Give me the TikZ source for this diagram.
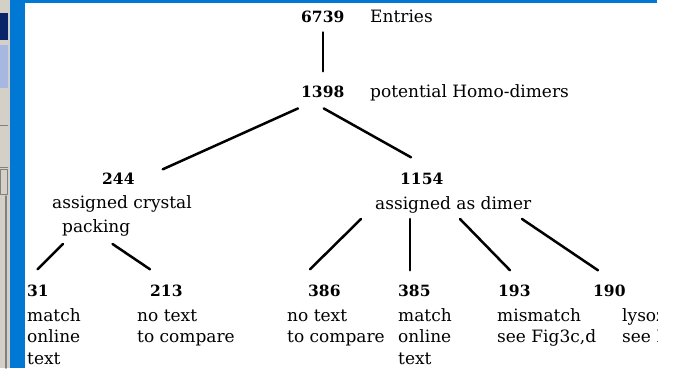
\documentclass[tikz,border=0pt]{standalone}
\usepackage{fontspec}
\setmainfont{DejaVu Serif}
\usetikzlibrary{positioning}
\definecolor{winblue}{RGB}{0,120,212}
\definecolor{wingray}{RGB}{212,208,200}
\definecolor{winnavy}{RGB}{10,36,106}
\definecolor{winlav}{RGB}{166,184,226}
\definecolor{winline}{RGB}{128,128,128}

\begin{document}
\begin{tikzpicture}[x=1pt,y=-1pt,line cap=round,line join=round,
  num/.style={font=\fontsize{15.5}{20}\selectfont\bfseries,inner sep=0pt,anchor=base west},
  lbl/.style={font=\fontsize{17}{21.5}\selectfont,inner sep=0pt,anchor=base west,align=left},
  link/.style={line width=2.5pt}]
\useasboundingbox (0,0) rectangle (675,368);
\fill[white] (0,0) rectangle (675,368);
% window frame
\fill[wingray] (0,0) rectangle (10,368);
\fill[winnavy] (0,13) rectangle (8,40);
\fill[winlav] (0,45) rectangle (8,88);
\draw[winline] (0,125) -- (8,125);
\draw[winline] (0,167) -- (8,167);
\draw[winline] (0.5,169) rectangle (7.5,194);
\draw[winline,line width=1.5pt] (6,196) -- (6,368);
\fill[winblue] (10,0) rectangle (25,368);
\fill[winblue] (25,0) rectangle (657,3);
% top of the tree
\node[num] (n6739) at (301,22) {6739};
\node[lbl] (l6739) at (370,22) {Entries};
\node[num] (n1398) at (301,97) {1398};
\node[lbl] (l1398) at (370,97) {potential Homo-dimers};
% second level
\node[num] (n244) at (102,184) {244};
\node[lbl] (l244) at (52,208) {assigned crystal};
\node[lbl] (p244) at (62,232) {packing};
\node[num] (n1154) at (400,184) {1154};
\node[lbl] (l1154) at (375,209) {assigned as dimer};
% leaves (base = last line)
\node[num] (n31) at (27,296) {31};
\node[lbl] (l31) at (27,364) {match\\online\\text};
\node[num] (n213) at (150,296) {213};
\node[lbl] (l213) at (137,342.5) {no text\\to compare};
\node[num] (n386) at (308,296) {386};
\node[lbl] (l386) at (287,342.5) {no text\\to compare};
\node[num] (n385) at (398,296) {385};
\node[lbl] (l385) at (398,364) {match\\online\\text};
\node[num] (n193) at (498,296) {193};
\node[lbl] (l193) at (497,342.5) {mismatch\\see Fig3c,d};
\node[num] (n190) at (593,296) {190};
\begin{scope}
\clip (25,0) rectangle (657,368);
\node[lbl] (l190) at (622,342.5) {lysoz\\see F};
\end{scope}
% connectors
\draw[link] ([yshift=-10pt]n6739.south) -- ([yshift=14pt]n1398.north);
\draw[link] ([xshift=-3pt,yshift=-11pt]n1398.south west) -- ([xshift=28pt,yshift=3pt]n244.north east);
\draw[link] ([xshift=1pt,yshift=-11pt]n1398.south) -- ([xshift=11pt,yshift=15pt]n1154.north west);
\draw[link] ([xshift=1pt,yshift=-8pt]p244.south west) -- ([xshift=-0.5pt,yshift=15pt]n31.north);
\draw[link] ([xshift=-18pt,yshift=-8pt]p244.south east) -- ([yshift=15pt]n213.north west);
\draw[link] ([xshift=-14pt,yshift=-6pt]l1154.south west) -- ([xshift=2pt,yshift=15pt]n386.north west);
\draw[link] ([xshift=35pt,yshift=-6pt]l1154.south west) -- ([xshift=12pt,yshift=14pt]n385.north west);
\draw[link] ([xshift=85pt,yshift=-6pt]l1154.south west) -- ([xshift=12pt,yshift=14pt]n193.north west);
\draw[link] ([xshift=147pt,yshift=-6pt]l1154.south west) -- ([xshift=5pt,yshift=14pt]n190.north west);
\end{tikzpicture}
\end{document}
